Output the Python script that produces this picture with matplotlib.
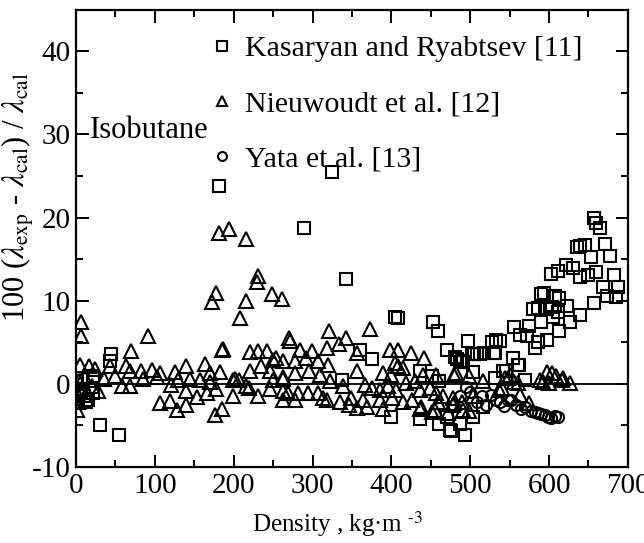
import numpy as np
import matplotlib
matplotlib.use("Agg")
import matplotlib.pyplot as plt
from matplotlib.ticker import MultipleLocator

plt.rcParams['font.family'] = ['Liberation Serif', 'DejaVu Serif']
plt.rcParams['mathtext.fontset'] = 'stix'
plt.rcParams['axes.unicode_minus'] = False

# Kasaryan and Ryabtsev [11]
kas_x = [1, 1, 2, 5, 10, 13, 15, 21, 21, 22, 31, 43, 45, 54, 181, 289, 325, 337, 342,
         360, 375, 400, 404, 408, 436, 436, 451, 453, 459, 461, 461, 470, 470, 474, 476,
         481, 483, 487, 487, 489, 491, 493, 497, 502, 504, 504, 505, 508, 513, 516, 518,
         528, 530, 531, 532, 533, 538, 542, 545, 554, 556, 561, 562, 563, 569, 572, 575,
         580, 582, 586, 586, 590, 590, 594, 597, 597, 603, 604, 605, 607, 611, 611, 612,
         613, 622, 623, 627, 630, 636, 639, 639, 639, 645, 650, 653, 657, 657, 660, 660,
         665, 668, 671, 673, 677, 682, 685, 688]
kas_y = [0.3, -2.3, -2.2, -0.8, -1.5, -2.2, -1.9, -1.1, 0.7, 0.9, -5.0, 2.8, 3.6, -6.1,
         23.8, 18.8, 25.5, 0.5, 12.6, 4.1, 3.0, -4.0, 8.1, 7.9, -4.2, 1.6, 0.9, 7.4, 6.4,
         -4.8, 0.3, 4.1, -4.0, -5.6, -5.7, 3.2, 3.0, 2.6, -4.8, 2.7, 2.6, -6.2, 5.2, 3.6,
         -4.0, 1.4, 3.6, 3.6, 3.6, -2.8, 3.7, 5.0, 3.7, 3.7, 0.7, 5.3, 5.2, 1.5, 1.5, 3.1,
         6.8, 2.3, 2.3, 5.9, 0.5, 5.8, 7.0, 9.0, 4.3, 5.0, 9.1, 10.8, 7.4, 10.9, 5.3, 9.0,
         13.2, 9.2, 8.0, 10.6, 13.6, 8.6, 10.3, 6.4, 14.3, 9.4, 7.4, 13.9, 16.5, 16.6, 12.8,
         8.3, 16.7, 13.1, 15.3, 19.9, 9.7, 19.4, 13.4, 18.7, 11.6, 16.8, 10.6, 15.4, 13.1,
         10.5, 11.7]

# Nieuwoudt et al. [12]
nie_x = [1, 2, 3, 4, 5, 6, 6, 8, 10, 14, 17, 20, 24, 28, 35, 43, 50, 58, 64, 68, 68, 70,
         82, 85, 91, 96, 103, 106, 107, 119, 121, 125, 128, 130, 140, 140, 140, 145, 153,
         157, 163, 166, 170, 170, 173, 176, 178, 178, 182, 183, 185, 185, 186,
         194, 199, 199, 202, 207, 208, 215, 216, 216, 219, 221, 221, 230, 231, 231, 231,
         235, 242, 246, 246, 248, 250, 250, 254, 261, 263, 263, 263, 263, 263, 270, 269, 271,
         278, 278, 278, 282, 284, 292, 295, 294, 299, 307, 309, 307, 313, 318, 318, 320,
         321, 322, 333, 335, 339, 342, 346, 349, 356, 356, 357,
         364, 366, 369, 373, 375, 385, 385, 390, 390, 398, 400, 396, 401, 404, 406, 408,
         408, 415, 415, 419, 425, 426, 430, 436, 436, 437, 440, 442, 449, 451, 455, 457,
         457, 459, 466, 472, 478, 478, 480, 480, 482, 489, 491,
         498, 499, 504, 516, 537, 540, 544, 548, 550, 556, 560, 563, 575, 588, 592, 597,
         600, 604, 609, 616, 618, 626]
nie_y = [-3.2, -2.2, -1.4, 0.3, 2.3, 7.4, 5.7, -0.5, 1.0, -1.0, 2.2, -0.3, 1.8, -0.8,
         0.6, 2.2, 1.0, -0.3, 2.1, 1.5, -0.3, 4.0,
         1.6, 0.6, 5.8, 1.7, 0.8, -2.3, 1.3, -2.1, -0.1, 1.4, -3.1, 0.5, 2.1, -0.9, -2.6,
         0.6, -1.6, 0.5, 2.4, -1.1, 1.3, 0.2, 9.9, -3.8, 10.9, -0.6, 18.2, 1.4, 4.1, -3.0,
         4.2,
         18.6, 0.5, -1.5, 0.6, 0.5, 7.9, 17.4, 10.0, -0.3, -0.5, 3.8, 1.5, 12.2, 3.9, 13.0,
         -1.5, 2.2, 3.9, 1.5, -0.6, 10.8, 2.9, 0.5, 3.1, 10.2, 2.7, 0.6, 0.8, -0.9, -1.9,
         5.5, -1.1, 5.1,
         2.7, 1.3, -1.9, -1.1, 4.1, 3.1, 1.6, -1.1, 3.9, 2.7, 1.1, -1.1, -1.7, 4.3, -1.9,
         2.3, 6.4, 0.3, 4.8, -2.2, -0.3, 5.5, -2.6, -1.7, 3.7, 1.5, -2.9,
         -1.9, -0.1, -2.8, 6.6, -0.5, -0.7, -1.9, 1.3, -3.0, 4.1, 1.1, -0.3, -1.7, 2.5,
         -0.7, 4.1, 2.2, 1.9, -2.2, 0.1, 3.7, -1.9, 0.3, -0.7, -3.0, -2.8, 1.1, 3.1, -0.5,
         -3.4, -3.2, 1.1, -1.1, -2.2, -1.5, -3.5, -1.7, -2.5, 1.1, -2.3, 1.3, -2.2, -3.2,
         0.9, -3.3, -1.5, 0.3, -0.7, -0.5, 0.7, 0.7, 1.1, 0.2, 0.1, -1.3, -2.3, 0.5, 0.2,
         1.4, 0.1, 1.3, 0.9, 0.5, 0.7, 0.1]

# Yata et al. [13]
yat_x = [487, 495, 500, 508, 515, 520, 527, 533, 538, 543, 548, 552, 558, 565, 570, 577,
         582, 586, 590, 595, 599, 603, 607, 611]
yat_y = [-1.5, -0.4, -1.0, -2.2, -1.5, -2.5, -1.3, -1.9, -2.2, -2.7, -2.0, -1.9, -2.6,
         -3.0, -2.8, -3.3, -3.4, -3.5, -3.6, -3.7, -4.0, -4.1, -3.9, -4.0]

fig = plt.figure(figsize=(6.44, 5.43), dpi=100)
ax = fig.add_axes([0.118, 0.140, 0.857, 0.842])

ax.axhline(0, color='black', lw=1.3, zorder=1)

mk = dict(linestyle='none', markerfacecolor='none', markeredgecolor='black',
          markeredgewidth=1.5)
ax.plot(kas_x, kas_y, marker='s', markersize=8.5, label='Kasaryan and Ryabtsev [11]', **mk)
ax.plot(nie_x, nie_y, marker='^', markersize=9.5, label='Nieuwoudt et al. [12]', **mk)
ax.plot(yat_x, yat_y, marker='o', markersize=8, label='Yata et al. [13]', **mk)

ax.set_xlim(0, 700)
ax.set_ylim(-10, 45)
ax.xaxis.set_major_locator(MultipleLocator(100))
ax.xaxis.set_minor_locator(MultipleLocator(50))
ax.yaxis.set_major_locator(MultipleLocator(10))
ax.yaxis.set_minor_locator(MultipleLocator(5))
ax.tick_params(which='both', direction='in', top=True, right=True, width=1.4,
               labelsize=21, pad=4)
ax.tick_params(which='major', length=9)
ax.tick_params(which='minor', length=5)
for s in ax.spines.values():
    s.set_linewidth(1.6)

ax.set_xlabel(r'Density , kg·m $^{\text{-3}}$', fontsize=18, va='center')
ax.xaxis.set_label_coords(0.475, -0.125)
ax.set_ylabel(r'100 ($\lambda_{\rm exp}$ - $\lambda_{\rm cal}$) / $\lambda_{\rm cal}$',
              fontsize=22, va='center')
ax.yaxis.set_label_coords(-0.105, 0.59)

ax.text(0.025, 0.735, 'Isobutane', transform=ax.transAxes, fontsize=22,
        ha='left', va='center')

ax.legend(loc='upper left', bbox_to_anchor=(0.207, 0.99), frameon=False, fontsize=21.5,
          markerscale=0.8, handlelength=0.7, handletextpad=0.45, labelspacing=0.95,
          borderaxespad=0.3)

fig.savefig('out.png', dpi=100)
